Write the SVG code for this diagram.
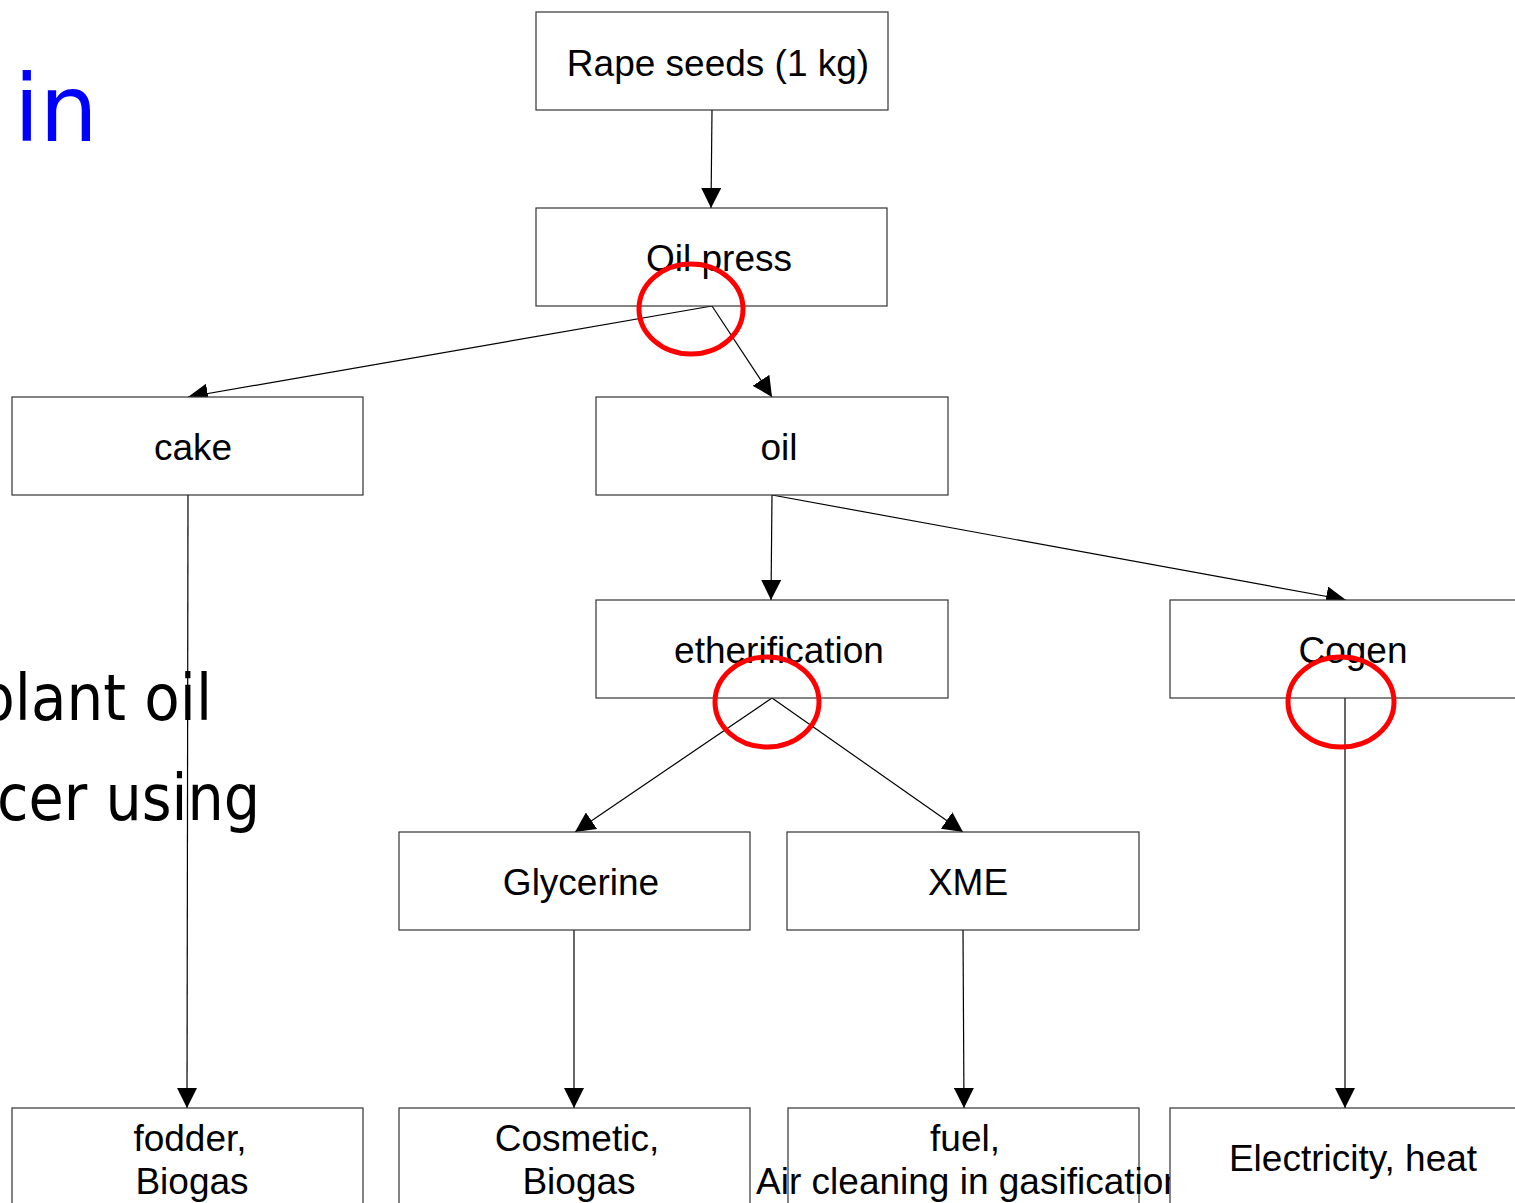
<svg xmlns="http://www.w3.org/2000/svg" width="1515" height="1203" viewBox="0 0 1515 1203">
<style>
.box{fill:#fff;stroke:#333;stroke-width:1.2}
.lbl{font-family:"Liberation Sans",Arial,sans-serif;font-size:37px;fill:#000;text-anchor:middle}
.con{stroke:#000;stroke-width:1.2;fill:none;marker-end:url(#arr)}
.mark{fill:none;stroke:#f00;stroke-width:5}
.slide{font-family:"DejaVu Sans",Verdana,sans-serif;fill:#000}
</style>
<defs>
<marker id="arr" markerUnits="userSpaceOnUse" markerWidth="20" markerHeight="20" refX="20" refY="10" orient="auto" viewBox="0 0 20 20">
<path d="M0,0 L20,10 L0,20 z" fill="#000"/>
</marker>
</defs>
<rect width="1515" height="1203" fill="#fff"/>
<g id="slide-text">
<text class="slide" x="14" y="141" font-size="92" style="fill:#0000ff">in</text>
<text class="slide" x="-22" y="720" font-size="64" textLength="234" lengthAdjust="spacingAndGlyphs">plant oil</text>
<text class="slide" x="-3" y="820" font-size="64" textLength="263" lengthAdjust="spacingAndGlyphs">cer using</text>
</g>
<g id="connectors">
<line class="con" x1="712" y1="110" x2="711" y2="208"/>
<line class="con" x1="712" y1="306" x2="188" y2="397"/>
<line class="con" x1="712" y1="306" x2="772" y2="397"/>
<line class="con" x1="772" y1="495" x2="771" y2="600"/>
<line class="con" x1="772" y1="495" x2="1346" y2="600"/>
<line class="con" x1="772" y1="698" x2="575" y2="832"/>
<line class="con" x1="772" y1="698" x2="963" y2="832"/>
<line class="con" x1="188" y1="495" x2="187" y2="1108"/>
<line class="con" x1="574" y1="930" x2="574" y2="1108"/>
<line class="con" x1="963" y1="930" x2="964" y2="1108"/>
<line class="con" x1="1345" y1="698" x2="1345" y2="1108"/>
</g>
<g id="rape-seeds"><rect class="box" x="536" y="12" width="352" height="98"/><text class="lbl" x="718" y="76">Rape seeds (1 kg)</text></g>
<g id="oil-press"><rect class="box" x="536" y="208" width="351" height="98"/><text class="lbl" x="719" y="271">Oil press</text></g>
<g id="cake"><rect class="box" x="12" y="397" width="351" height="98"/><text class="lbl" x="193" y="460">cake</text></g>
<g id="oil"><rect class="box" x="596" y="397" width="352" height="98"/><text class="lbl" x="779" y="460">oil</text></g>
<g id="etherification"><rect class="box" x="596" y="600" width="352" height="98"/><text class="lbl" x="779" y="663">etherification</text></g>
<g id="cogen"><rect class="box" x="1170" y="600" width="360" height="98"/><text class="lbl" x="1353" y="663">Cogen</text></g>
<g id="glycerine"><rect class="box" x="399" y="832" width="351" height="98"/><text class="lbl" x="581" y="895">Glycerine</text></g>
<g id="xme"><rect class="box" x="787" y="832" width="352" height="98"/><text class="lbl" x="968" y="895">XME</text></g>
<g id="fodder"><rect class="box" x="12" y="1108" width="351" height="110"/><text class="lbl" x="190" y="1151">fodder,</text><text class="lbl" x="192" y="1194">Biogas</text></g>
<g id="cosmetic"><rect class="box" x="399" y="1108" width="351" height="110"/><text class="lbl" x="577" y="1151">Cosmetic,</text><text class="lbl" x="579" y="1194">Biogas</text></g>
<g id="fuel"><rect class="box" x="788" y="1108" width="351" height="110"/><text class="lbl" x="965" y="1151">fuel,</text><text class="lbl" x="970" y="1194">Air cleaning in gasification</text></g>
<g id="electricity"><rect class="box" x="1170" y="1108" width="360" height="110"/><text class="lbl" x="1353" y="1171">Electricity, heat</text></g>
<g id="highlights">
<ellipse class="mark" cx="691" cy="309" rx="52" ry="45"/>
<ellipse class="mark" cx="767" cy="702" rx="52" ry="45"/>
<ellipse class="mark" cx="1341" cy="702" rx="53" ry="45"/>
</g>
</svg>
